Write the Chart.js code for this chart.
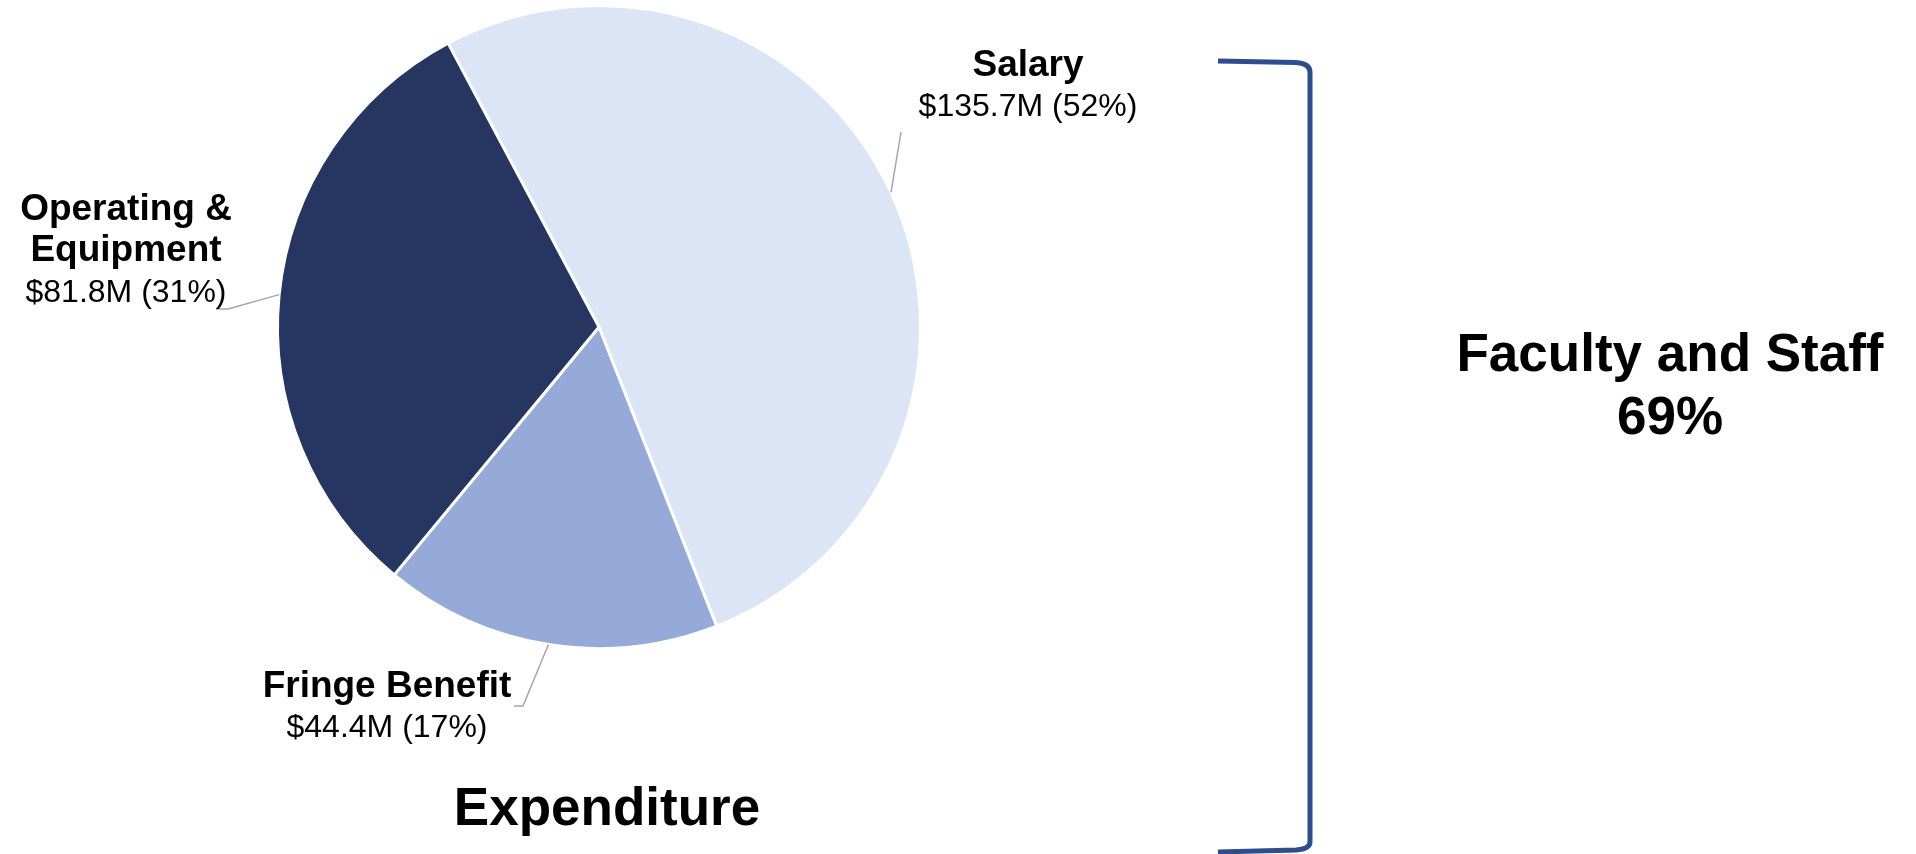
<!DOCTYPE html>
<html><head><meta charset="utf-8">
<script src="https://cdn.jsdelivr.net/npm/chart.js@4.4.0/dist/chart.umd.min.js"></script>
<style>html,body{margin:0;padding:0;background:#fff;overflow:hidden}#wrap{position:relative;width:1916px;height:854px}</style>
</head><body><div id="wrap"><canvas id="c" width="1916" height="854"></canvas></div>
<script>
// ---- data ----
const categories = ['Salary', 'Fringe Benefit', 'Operating & Equipment'];
const labelLines = [['Salary'], ['Fringe Benefit'], ['Operating &', 'Equipment']];
const amounts = [135.7, 44.4, 81.8]; // $M
const sliceColors = ['#DCE5F5', '#95AAD8', '#263661'];
const chartTitle = 'Expenditure';
const groupLabel = ['Faculty and Staff', '69%'];

// ---- layout (positions only) ----
const FONT = '"Liberation Sans", Arial, Helvetica, sans-serif';
const labelLayout = [
  { cx: 1028, y: 76, gap: 40, path: [[901, 132]] },
  { cx: 387, y: 697, gap: 40, path: [[523, 706], [514, 706]] },
  { cx: 126, y: 220, gap: 41, path: [[228, 309], [216, 309]] }
];

const total = amounts.reduce((a, b) => a + b, 0);

const overlay = {
  id: 'overlay',
  afterDraw(chart) {
    const ctx = chart.ctx;
    const meta = chart.getDatasetMeta(0);
    ctx.save();
    // leader lines
    meta.data.forEach((arc, i) => {
      const p = arc.getProps(['x', 'y', 'startAngle', 'endAngle', 'outerRadius'], true);
      const mid = (p.startAngle + p.endAngle) / 2;
      const sx = p.x + Math.cos(mid) * p.outerRadius;
      const sy = p.y + Math.sin(mid) * p.outerRadius;
      ctx.beginPath();
      ctx.moveTo(sx, sy);
      labelLayout[i].path.forEach(pt => ctx.lineTo(pt[0], pt[1]));
      ctx.strokeStyle = '#A6A6A6';
      ctx.lineWidth = 1.5;
      ctx.stroke();
    });
    // labels
    ctx.fillStyle = '#000';
    ctx.textAlign = 'center';
    ctx.textBaseline = 'alphabetic';
    meta.data.forEach((arc, i) => {
      const L = labelLayout[i];
      let y = L.y;
      ctx.font = 'bold 37px ' + FONT;
      labelLines[i].forEach(line => { ctx.fillText(line, L.cx, y); y += L.gap; });
      ctx.font = '32px ' + FONT;
      const pct = Math.round(amounts[i] / total * 100);
      ctx.fillText('$' + amounts[i].toFixed(1) + 'M (' + pct + '%)', L.cx, y);
    });
    // title
    ctx.font = 'bold 53px ' + FONT;
    ctx.fillText(chartTitle, 607, 825);
    // group label
    ctx.fillText(groupLabel[0], 1670, 371);
    ctx.fillText(groupLabel[1], 1670, 434);
    // bracket
    ctx.beginPath();
    ctx.moveTo(1218, 61);
    ctx.lineTo(1296, 62.5);
    ctx.quadraticCurveTo(1310, 63.5, 1310, 72);
    ctx.lineTo(1310, 842);
    ctx.quadraticCurveTo(1310, 849, 1296, 850);
    ctx.lineTo(1218, 852);
    ctx.strokeStyle = '#2F4D8C';
    ctx.lineWidth = 5;
    ctx.lineJoin = 'round';
    ctx.stroke();
    ctx.restore();
  }
};

new Chart(document.getElementById('c'), {
  type: 'pie',
  data: {
    labels: categories,
    datasets: [{
      data: amounts,
      backgroundColor: sliceColors,
      borderColor: '#FFFFFF',
      borderWidth: 3
    }]
  },
  options: {
    responsive: false,
    animation: false,
    rotation: -28,
    layout: { padding: { left: 276, right: 994, top: 4, bottom: 204 } },
    plugins: { legend: { display: false }, tooltip: { enabled: false }, title: { display: false } },
    events: []
  },
  plugins: [overlay]
});
</script>
</body></html>
